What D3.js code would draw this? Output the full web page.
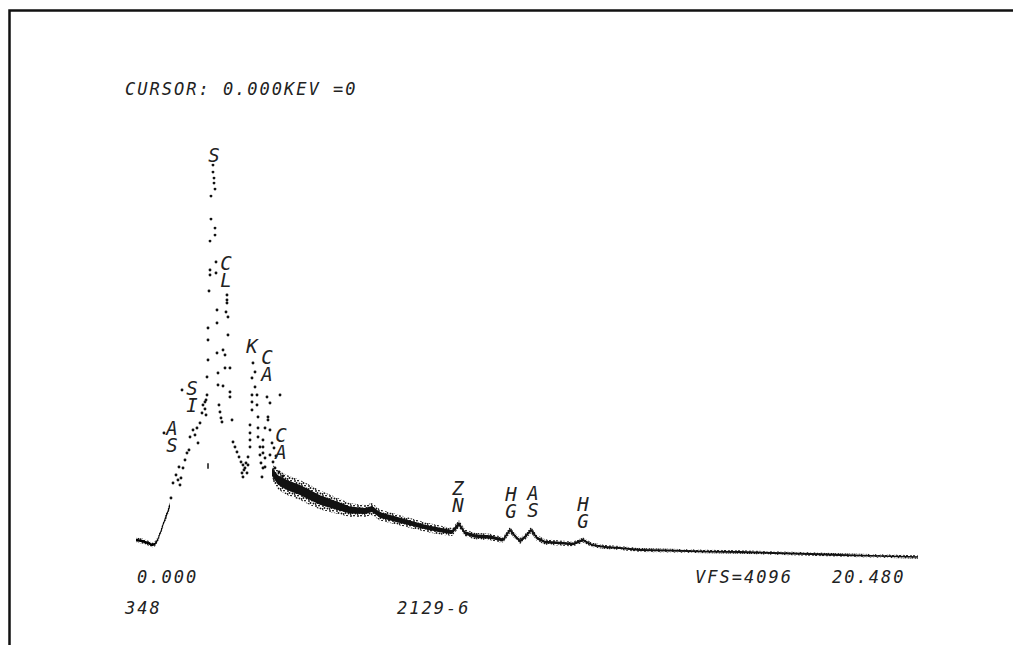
<!DOCTYPE html>
<html><head><meta charset="utf-8">
<script src="https://cdn.jsdelivr.net/npm/d3@7"></script>
<style>html,body{margin:0;padding:0;background:#fff;} svg{display:block;}</style>
</head><body>
<svg id="c" width="1013" height="645"></svg>
<script>
// ---- Data (energy in keV, counts) ----
const dotEnergy = [0.731,1.202,0.914,0.967,1.045,1.097,1.123,1.149,1.175,1.228,1.280,1.332,1.384,1.411,1.489,1.541,1.593,1.620,1.672,1.724,1.750,1.802,1.802,1.829,1.829,1.855,1.855,1.881,1.881,1.881,1.907,1.933,1.933,1.933,1.959,1.959,2.011,2.011,2.038,2.038,2.064,2.064,2.064,2.090,2.090,2.116,2.116,2.116,2.142,2.142,2.168,2.194,2.220,2.246,2.273,2.273,2.325,2.325,2.351,2.377,2.377,2.377,2.403,2.403,2.455,2.455,2.455,2.508,2.534,2.586,2.638,2.691,2.743,2.769,2.795,2.795,2.821,2.847,2.873,
2.900,2.926,2.926,2.978,2.978,2.978,2.978,3.030,3.030,3.030,3.030,3.056,3.109,3.109,
3.161,3.161,3.187,3.187,3.187,3.239,3.239,3.265,3.317,3.291,
3.317,3.317,3.317,3.370,3.370,3.370,3.422,3.448,3.448,3.500,3.500,3.500,3.553,3.762,
3.605,3.657,3.579,3.631,3.735,3.840];
const dotCounts = [1161,1548,576,711,783,738,855,693,756,846,918,981,1008,1125,1188,1143,1206,1071,1251,1341,1413,1440,1377,1323,1458,1503,1665,1818,1998,2106,2439,2583,2628,2889,3087,3294,3573,3510,3456,3411,3357,3006,2943,2700,2601,2268,2151,1881,1701,1593,1413,1350,1296,1260,1908,1584,1863,1746,2250,2403,2358,2331,2205,2043,1746,1530,1485,1278,1080,1035,990,945,900,801,873,765,828,846,891,
801,873,945,1035,1098,1161,1233,1368,1440,1503,1656,1791,1710,1575,
1503,1413,1305,1206,1125,1035,963,891,846,765,
1098,1035,981,1206,936,855,1485,1305,1278,1431,1188,963,1071,1503,
1026,954,900,846,810,774];

const lowBandEnergy = [0.000,0.157,0.313,0.418,0.496,0.575,0.653,0.731,0.810,0.888];
const lowBandCounts = [198,189,171,153,162,207,279,360,432,513];
const lowBandSpread = [22,22,22,22,22,22,24,26,28,30];

const tailEnergy = [3.553,3.710,3.945,4.284,4.545,4.807,5.199,5.590,5.982,6.165,6.374,6.766,7.158,7.550,7.941,8.255,8.438,8.595,8.856,9.248,9.587,9.770,9.875,10.031,10.188,10.319,10.475,10.684,11.076,11.416,11.677,11.912,12.252,12.644,13.166,13.950,14.916,15.778,16.641,17.607,18.391,19.436,20.428];
const tailCounts = [810,738,693,648,603,558,513,468,459,477,423,387,351,315,288,270,342,261,234,225,198,288,243,189,234,288,216,180,171,162,198,153,135,126,108,103,94,90,81,72,63,54,45];
const tailSpread = [70,85,90,90,90,85,75,62,55,55,50,48,45,42,40,36,34,32,30,30,28,28,28,28,28,28,26,24,22,22,22,20,19,18,17,17,16,16,16,16,16,15,15];

const markerEnergy = 1.881;
const markerCounts = [840, 890];

// element labels (stacked letters), energy of label centre and counts at first baseline
const labelText   = ["AS","SI","S","CL","K","CA","CA","ZN","HG","AS","HG"];
const labelEnergy = [0.940,1.463,2.038,2.351,3.030,3.422,3.788,8.411,9.796,10.371,11.677];
const labelCounts = [1143,1503,3600,2628,1881,1782,1080,603,549,558,459];

const xDomain = [0, 20.48];
const yDomain = [0, 4096];
const headerText = "CURSOR: 0.000KEV =0";
const axisLeftLabel = "0.000";
const axisRightLabel = "20.480";
const vfsLabel = "VFS=4096";
const idLeft = "348";
const idCenter = "2129-6";

// ---- Drawing ----
const svg = d3.select("#c");
const x = d3.scaleLinear().domain(xDomain).range([136, 920]);
const y = d3.scaleLinear().domain(yDomain).range([562, 107]);

// stipple pattern to mimic the scattered printer dots of the noisy band
const defs = svg.append("defs");
const pat = defs.append("pattern").attr("id","stip").attr("patternUnits","userSpaceOnUse")
  .attr("width",7).attr("height",5);
[[1,1],[4,0.5],[2.5,3],[5.5,3.5],[0.5,4]].forEach(p=>{
  pat.append("circle").attr("cx",p[0]).attr("cy",p[1]).attr("r",0.95).attr("fill","#111");
});

// frame (open at right/bottom as in the scan)
svg.append("path").attr("d","M9.5,645 L9.5,10.5 L1013,10.5")
  .attr("fill","none").attr("stroke","#111").attr("stroke-width",2.5);

function band(E, C, S, k, fill, op){
  const d = E.map((e,i)=>({e, c:C[i], s:S[i]*k}));
  svg.append("path").datum(d)
    .attr("d", d3.area().x(p=>x(p.e)).y0(p=>y(p.c - p.s)).y1(p=>y(p.c + p.s)))
    .attr("fill", fill).attr("opacity", op);
}
band(lowBandEnergy, lowBandCounts, lowBandSpread, 1, "url(#stip)", 1);
band(lowBandEnergy, lowBandCounts, lowBandSpread, 0.55, "#000", 1);
band(tailEnergy, tailCounts, tailSpread, 1, "url(#stip)", 1);
band(tailEnergy, tailCounts, tailSpread, 0.5, "#111", 1);

// spectrum dots
svg.append("g").selectAll("circle")
  .data(dotEnergy.map((e,i)=>({e, c:dotCounts[i]})))
  .join("circle")
  .attr("cx", d=>x(d.e)).attr("cy", d=>y(d.c)).attr("r", 1.45).attr("fill","#111");

// marker tick
svg.append("line")
  .attr("x1", x(markerEnergy)).attr("x2", x(markerEnergy))
  .attr("y1", y(markerCounts[0])).attr("y2", y(markerCounts[1]))
  .attr("stroke","#111").attr("stroke-width",1.5);

// element labels: one text per label, letters stacked with tspans
const lab = svg.append("g")
  .attr("font-family","'DejaVu Sans Mono', monospace")
  .attr("font-style","italic").attr("font-size",19).attr("fill","#222")
  .attr("text-anchor","middle");
labelText.forEach((t,i)=>{
  const el = lab.append("text").attr("x", x(labelEnergy[i])).attr("y", y(labelCounts[i]));
  t.split("").forEach((ch,j)=>{
    el.append("tspan").attr("x", x(labelEnergy[i])).attr("dy", j===0 ? 0 : 17).text(ch);
  });
});

// text
const txt = svg.append("g")
  .attr("font-family","'DejaVu Sans Mono', monospace")
  .attr("font-style","italic").attr("font-size",17).attr("fill","#222")
  .attr("letter-spacing", 2);
txt.append("text").attr("x",125).attr("y",95).text(headerText);
txt.append("text").attr("x",137).attr("y",583).text(axisLeftLabel);
txt.append("text").attr("x",695).attr("y",583).text(vfsLabel);
txt.append("text").attr("x",832).attr("y",583).text(axisRightLabel);
txt.append("text").attr("x",125).attr("y",614).text(idLeft);
txt.append("text").attr("x",397).attr("y",614).text(idCenter);
</script>
</body></html>
